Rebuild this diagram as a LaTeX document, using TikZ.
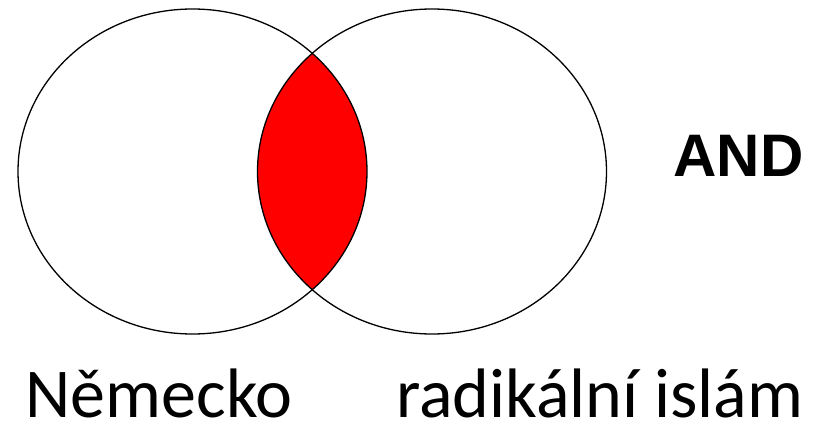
\documentclass[tikz,border=0pt]{standalone}
\usepackage{fontspec}
\setmainfont{Carlito}
\newfontfamily\andfont{Liberation Sans}
\usepackage{tikz}
\definecolor{lensred}{RGB}{255,0,0}
\tikzset{
  setline/.style={draw=black,line width=1.3pt},
  setlabel/.style={anchor=base,inner sep=0pt,font=\fontsize{70}{74}\selectfont},
  oplabel/.style={anchor=base,inner sep=0pt,font=\andfont\bfseries\fontsize{60}{64}\selectfont}
}

\begin{document}
\begin{tikzpicture}[x=1pt,y=-1pt]
  \useasboundingbox (0,0) rectangle (819,422);
  \coordinate (cnem) at (192.5,171.5);
  \coordinate (cisl) at (432,171.5);
  % intersection
  \begin{scope}
    \clip (cnem) ellipse [x radius=174.5,y radius=162.5];
    \fill[lensred] (cisl) ellipse [x radius=174.5,y radius=162.5];
  \end{scope}
  % the two sets
  \draw[setline] (cnem) ellipse [x radius=174.5,y radius=162.5];
  \draw[setline] (cisl) ellipse [x radius=174.5,y radius=162.5];
  \node[oplabel] (and) at (738.5,177) {AND};
  \node[setlabel] (nem) at (159,417) {Německo};
  \node[setlabel] (isl) at (600,417) {radikální islám};
\end{tikzpicture}
\end{document}
